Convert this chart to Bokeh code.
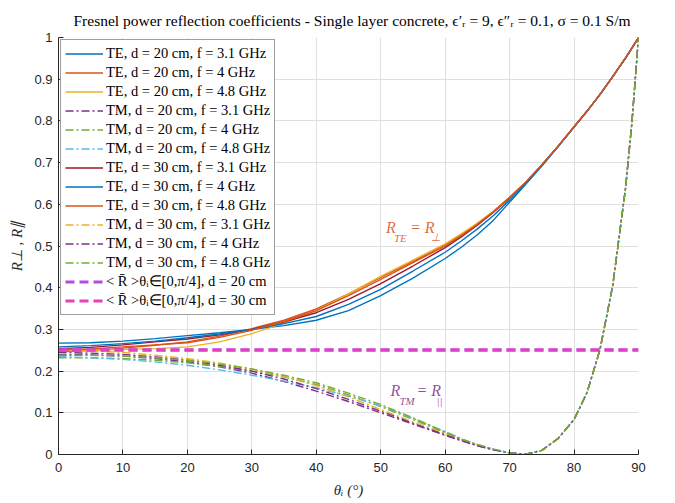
from bokeh.plotting import figure
from bokeh.models import ColumnDataSource, FixedTicker, CustomJSTickFormatter, Label, Range1d
from bokeh.embed import file_html
from bokeh.resources import INLINE

# ---- data ----
theta = [0, 5, 10, 15, 20, 25, 30, 35, 40, 45, 50, 55, 60,
         62.5, 65, 67.5, 70, 72.5, 75, 77.5, 80, 82, 84, 86, 88, 89, 90]

te_d20_f31 = [0.267, 0.268, 0.272, 0.278, 0.285, 0.292, 0.300, 0.309, 0.322, 0.345, 0.381, 0.423, 0.470,
              0.497, 0.527, 0.562, 0.605, 0.648, 0.692, 0.738, 0.785, 0.823, 0.863, 0.906, 0.951, 0.975, 1.0]
te_d20_f4 = [0.246, 0.249, 0.255, 0.262, 0.270, 0.284, 0.302, 0.322, 0.349, 0.385, 0.425, 0.463, 0.503,
             0.527, 0.553, 0.583, 0.617, 0.653, 0.695, 0.739, 0.786, 0.823, 0.863, 0.906, 0.951, 0.975, 1.0]
te_d20_f48 = [0.249, 0.250, 0.252, 0.254, 0.258, 0.270, 0.290, 0.315, 0.345, 0.385, 0.427, 0.466, 0.505,
              0.529, 0.555, 0.584, 0.617, 0.653, 0.695, 0.739, 0.786, 0.823, 0.863, 0.906, 0.951, 0.975, 1.0]
tm_d20_f31 = [0.240, 0.239, 0.236, 0.230, 0.222, 0.210, 0.195, 0.175, 0.152, 0.127, 0.100, 0.073, 0.046,
              0.033, 0.021, 0.011, 0.004, 0.0005, 0.010, 0.038, 0.084, 0.148, 0.250, 0.405, 0.640, 0.800, 1.0]
tm_d20_f4 = [0.232, 0.232, 0.230, 0.226, 0.220, 0.211, 0.200, 0.186, 0.168, 0.143, 0.115, 0.084, 0.052,
             0.036, 0.023, 0.012, 0.004, 0.0005, 0.010, 0.038, 0.084, 0.148, 0.250, 0.405, 0.640, 0.800, 1.0]
tm_d20_f48 = [0.235, 0.232, 0.228, 0.222, 0.214, 0.203, 0.190, 0.176, 0.160, 0.140, 0.117, 0.087, 0.055,
              0.038, 0.024, 0.013, 0.004, 0.0005, 0.010, 0.038, 0.084, 0.148, 0.250, 0.405, 0.640, 0.800, 1.0]
te_d30_f31 = [0.254, 0.257, 0.263, 0.270, 0.277, 0.287, 0.300, 0.318, 0.340, 0.372, 0.410, 0.452, 0.496,
              0.522, 0.550, 0.581, 0.615, 0.652, 0.694, 0.739, 0.786, 0.823, 0.863, 0.906, 0.951, 0.975, 1.0]
te_d30_f4 = [0.258, 0.261, 0.266, 0.272, 0.280, 0.289, 0.300, 0.314, 0.331, 0.360, 0.396, 0.440, 0.485,
             0.512, 0.541, 0.573, 0.610, 0.650, 0.693, 0.738, 0.785, 0.823, 0.863, 0.906, 0.951, 0.975, 1.0]
te_d30_f48 = [0.250, 0.253, 0.258, 0.263, 0.268, 0.281, 0.298, 0.319, 0.345, 0.381, 0.420, 0.460, 0.500,
              0.525, 0.552, 0.582, 0.616, 0.653, 0.695, 0.739, 0.786, 0.823, 0.863, 0.906, 0.951, 0.975, 1.0]
tm_d30_f31 = [0.250, 0.248, 0.245, 0.238, 0.230, 0.219, 0.205, 0.187, 0.165, 0.138, 0.108, 0.078, 0.050,
              0.035, 0.022, 0.012, 0.004, 0.0005, 0.010, 0.038, 0.084, 0.148, 0.250, 0.405, 0.640, 0.800, 1.0]
tm_d30_f4 = [0.245, 0.243, 0.240, 0.234, 0.226, 0.214, 0.200, 0.181, 0.158, 0.132, 0.104, 0.075, 0.047,
             0.034, 0.021, 0.011, 0.004, 0.0005, 0.010, 0.038, 0.084, 0.148, 0.250, 0.405, 0.640, 0.800, 1.0]
tm_d30_f48 = [0.238, 0.238, 0.236, 0.232, 0.226, 0.217, 0.205, 0.190, 0.172, 0.147, 0.120, 0.088, 0.054,
              0.037, 0.024, 0.013, 0.004, 0.0005, 0.010, 0.038, 0.084, 0.148, 0.250, 0.405, 0.640, 0.800, 1.0]

avg_theta = [0, 90]
avg_d20 = [0.251, 0.251]
avg_d30 = [0.250, 0.250]

x_ticks = [0, 10, 20, 30, 40, 50, 60, 70, 80, 90]
y_ticks = [0, 0.1, 0.2, 0.3, 0.4, 0.5, 0.6, 0.7, 0.8, 0.9, 1.0]

series = [
    ("TE, d = 20 cm, f = 3.1 GHz", te_d20_f31, "#0072BD", "solid"),
    ("TE, d = 20 cm, f = 4 GHz", te_d20_f4, "#D95319", "solid"),
    ("TE, d = 20 cm, f = 4.8 GHz", te_d20_f48, "#EDB120", "solid"),
    ("TM, d = 20 cm, f = 3.1 GHz", tm_d20_f31, "#7E2F8E", "dashdot"),
    ("TM, d = 20 cm, f = 4 GHz", tm_d20_f4, "#77AC30", "dashdot"),
    ("TM, d = 20 cm, f = 4.8 GHz", tm_d20_f48, "#4DBEEE", "dashdot"),
    ("TE, d = 30 cm, f = 3.1 GHz", te_d30_f31, "#A2142F", "solid"),
    ("TE, d = 30 cm, f = 4 GHz", te_d30_f4, "#0072BD", "solid"),
    ("TE, d = 30 cm, f = 4.8 GHz", te_d30_f48, "#D95319", "solid"),
    ("TM, d = 30 cm, f = 3.1 GHz", tm_d30_f31, "#EDB120", "dashdot"),
    ("TM, d = 30 cm, f = 4 GHz", tm_d30_f4, "#7E2F8E", "dashdot"),
    ("TM, d = 30 cm, f = 4.8 GHz", tm_d30_f48, "#77AC30", "dashdot"),
]

AX = "#262626"

p = figure(width=667, height=495, frame_width=580, frame_height=417,
           output_backend="svg", toolbar_location=None,
           x_range=Range1d(0, 90), y_range=Range1d(0, 1),
           min_border_left=58, min_border_right=29, min_border_top=37, min_border_bottom=41)
p.outline_line_color = None
p.background_fill_color = "white"
p.border_fill_color = "white"

for label, vals, color, style in series:
    src = ColumnDataSource(dict(x=theta, y=vals))
    if style == "solid":
        p.line("x", "y", source=src, line_color=color, line_width=1.4, legend_label=label)
    else:
        p.line("x", "y", source=src, line_color=color, line_width=1.4, line_dash="8 3 2 3",
               legend_label=label)

src20 = ColumnDataSource(dict(x=avg_theta, y=avg_d20))
src30 = ColumnDataSource(dict(x=avg_theta, y=avg_d30))
p.line("x", "y", source=src20, line_color="#B848E0", line_width=3, line_dash="9 5",
       legend_label="< R̄ >θᵢ∈[0,π/4], d = 20 cm")
p.line("x", "y", source=src30, line_color="#E640BE", line_width=3, line_dash="9 5",
       legend_label="< R̄ >θᵢ∈[0,π/4], d = 30 cm")

# axes
for ax in (p.xaxis[0], p.yaxis[0]):
    ax.axis_line_color = AX
    ax.major_tick_line_color = AX
    ax.major_tick_in = 5
    ax.major_tick_out = 0
    ax.minor_tick_line_color = None
    ax.major_label_text_font = "Liberation Sans"
    ax.major_label_text_font_size = "13px"
    ax.major_label_text_color = AX
    ax.axis_label_text_font = "Liberation Serif"
    ax.axis_label_text_font_style = "italic"
    ax.axis_label_text_font_size = "15px"
    ax.axis_label_text_color = AX

p.xaxis.ticker = FixedTicker(ticks=x_ticks)
p.yaxis.ticker = FixedTicker(ticks=y_ticks)
p.yaxis.formatter = CustomJSTickFormatter(code="return String(Math.round(tick*10)/10);")
p.xaxis.major_label_standoff = 8
p.yaxis.major_label_standoff = 6
p.xaxis.axis_label = "θᵢ (°)"
p.yaxis.axis_label = "R⊥ , R∥"
p.xaxis.axis_label_standoff = 7
p.yaxis.axis_label_standoff = 6

p.grid.grid_line_color = "#dfdfdf"
p.grid.grid_line_width = 1

# title
p.title.text = "Fresnel power reflection coefficients - Single layer concrete, ϵ′ᵣ = 9, ϵ″ᵣ = 0.1, σ = 0.1 S/m"
p.title.text_font = "Liberation Serif"
p.title.text_font_style = "normal"
p.title.text_font_size = "15.5px"
p.title.text_color = "black"
p.title.align = "left"
p.title.offset = 15
p.title.standoff = 17

# legend
lg = p.legend[0]
lg.location = "top_left"
lg.margin = 2
lg.padding = 4
lg.spacing = 0
lg.glyph_width = 38
lg.glyph_height = 19
lg.label_height = 19
lg.label_standoff = 3
lg.label_text_font = "Liberation Serif"
lg.label_text_font_size = "14.5px"
lg.label_text_color = "black"
lg.border_line_color = "#404040"
lg.border_line_width = 1
lg.background_fill_color = "white"
lg.background_fill_alpha = 1.0

# annotations
def add_sub_label(x, y, parts, color):
    for txt, dx, dy, size in parts:
        p.add_layout(Label(x=x, y=y, x_offset=dx, y_offset=dy, text=txt,
                           text_font="Liberation Serif", text_font_style="italic",
                           text_font_size=size, text_color=color, text_alpha=0.85))

add_sub_label(50.8, 0.524, [("R", 0, 0, "16px"), ("TE", 8, -8, "11px"),
                            ("= R", 24, 0, "16px"), ("⊥", 45, -7, "11px")], "#D95319")
add_sub_label(51.5, 0.133, [("R", 0, 0, "16px"), ("TM", 9, -8, "11px"),
                            ("= R", 26, 0, "16px"), ("||", 46, -8, "11px")], "#7E2F8E")

open("out.html", "w").write(file_html(p, INLINE))
